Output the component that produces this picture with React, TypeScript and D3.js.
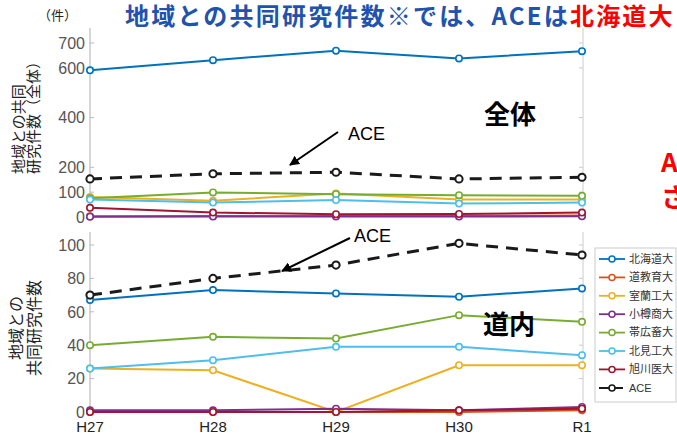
import * as d3 from "d3";

const years = ["H27", "H28", "H29", "H30", "R1"];
const univNames = ["北海道大", "道教育大", "室蘭工大", "小樽商大", "帯広畜大", "北見工大", "旭川医大"];
const univColors = ["#0072BD", "#D95319", "#EDB120", "#7E2F8E", "#77AC30", "#4DBEEE", "#A2142F"];

// 全体 (all)
const totalHokudai = [590, 631, 669, 638, 667];
const totalKyoiku = [3, 4, 4, 4, 6];
const totalMuroran = [80, 65, 95, 70, 70];
const totalOtaru = [1, 2, 2, 2, 3];
const totalObihiro = [75, 99, 92, 88, 85];
const totalKitami = [70, 58, 68, 54, 58];
const totalAsahikawa = [37, 18, 11, 12, 18];
const totalACE = [153, 174, 180, 153, 160];
const totalTicks = [0, 100, 200, 400, 600, 700];

// 道内 (within Hokkaido)
const localHokudai = [67, 73, 71, 69, 74];
const localKyoiku = [0, 0, 0, 0, 1];
const localMuroran = [26, 25, 0, 28, 28];
const localOtaru = [1, 1, 2, 1, 3];
const localObihiro = [40, 45, 44, 58, 54];
const localKitami = [26, 31, 39, 39, 34];
const localAsahikawa = [0, 0, 0, 1, 2];
const localACE = [70, 80, 88, 101, 94];
const localTicks = [0, 20, 40, 60, 80, 100];

const totalSeries = [totalHokudai, totalKyoiku, totalMuroran, totalOtaru, totalObihiro, totalKitami, totalAsahikawa];
const localSeries = [localHokudai, localKyoiku, localMuroran, localOtaru, localObihiro, localKitami, localAsahikawa];

const jp = "'Noto Sans CJK JP', 'Noto Sans', sans-serif";
const num = "'Liberation Sans', Arial, sans-serif";

type PanelProps = {
  series: number[][];
  ace: number[];
  ticks: number[];
  domain: [number, number];
  yRange: [number, number];
  axisTop: number;
  axisBottom: number;
};

const x = d3.scalePoint<string>().domain(years).range([90, 582]);

function Panel({ series, ace, ticks, domain, yRange, axisTop, axisBottom }: PanelProps) {
  const y = d3.scaleLinear().domain(domain).range(yRange);
  const line = d3
    .line<number>()
    .x((_, i) => x(years[i]) ?? 0)
    .y((d) => y(d));
  return (
    <g>
      <line x1={90} x2={90} y1={axisTop} y2={axisBottom} stroke="#bbb" strokeWidth={1.2} />
      <line x1={583} x2={583} y1={axisTop} y2={axisBottom} stroke="#ccc" strokeWidth={1} />
      {ticks.map((t) => (
        <g key={t}>
          <line x1={90} x2={94} y1={y(t)} y2={y(t)} stroke="#bbb" />
          <line x1={579} x2={583} y1={y(t)} y2={y(t)} stroke="#ccc" />
          <text x={85} y={y(t)} dy="0.36em" textAnchor="end" fontSize={16} fill="#555" fontFamily={num}>
            {t}
          </text>
        </g>
      ))}
      {series.map((s, k) => (
        <g key={univNames[k]}>
          <path d={line(s) ?? ""} fill="none" stroke={univColors[k]} strokeWidth={2} />
          {s.map((v, i) => (
            <circle key={i} cx={x(years[i])} cy={y(v)} r={3.2} fill="#fff" stroke={univColors[k]} strokeWidth={1.6} />
          ))}
        </g>
      ))}
      <path d={line(ace) ?? ""} fill="none" stroke="#1a1a1a" strokeWidth={3} strokeDasharray="12 8" />
      {ace.map((v, i) => (
        <circle key={i} cx={x(years[i])} cy={y(v)} r={3.6} fill="#fff" stroke="#1a1a1a" strokeWidth={2} />
      ))}
    </g>
  );
}

export default function App() {
  const width = 677;
  const height = 433;
  return (
    <svg
      width={width}
      height={height}
      viewBox={`0 0 ${width} ${height}`}
      style={{ position: "absolute", left: 0, top: 0, background: "#fff" }}
    >
      <defs>
        <marker id="arrow" viewBox="0 0 10 10" refX={9} refY={5} markerWidth={5} markerHeight={5} orient="auto-start-reverse">
          <path d="M0,0 L10,5 L0,10 z" fill="#000" />
        </marker>
      </defs>
      <rect width={width} height={height} fill="#fff" />

      <text x={38} y={20} fontSize={13} fill="#222" fontFamily={jp}>
        （件）
      </text>
      <text x={125} y={25} fontSize={24} fontWeight="bold" letterSpacing={2.2} fill="#2152ad" fontFamily={jp}>
        地域との共同研究件数※では、ACEは<tspan fill="#ff0000">北海道大</tspan>
      </text>

      <Panel
        series={totalSeries}
        ace={totalACE}
        ticks={totalTicks}
        domain={[0, 700]}
        yRange={[217, 43]}
        axisTop={28}
        axisBottom={219}
      />
      <Panel
        series={localSeries}
        ace={localACE}
        ticks={localTicks}
        domain={[0, 100]}
        yRange={[412, 245]}
        axisTop={232}
        axisBottom={415}
      />

      {years.map((yr) => (
        <text key={yr} x={x(yr)} y={432} textAnchor="middle" fontSize={15} fill="#222" fontFamily={num}>
          {yr}
        </text>
      ))}

      <g fontFamily={jp} fontSize={15} fill="#222">
        <text transform="translate(24,174) rotate(-90)">地域との共同</text>
        <text transform="translate(39,174) rotate(-90)">研究件数（全体）</text>
        <text transform="translate(22,328) rotate(-90)" textAnchor="middle" fontSize={16}>地域との</text>
        <text transform="translate(40,328) rotate(-90)" textAnchor="middle" fontSize={16}>共同研究件数</text>
      </g>

      <text x={484} y={124} fontSize={26} fontWeight="bold" fill="#000" fontFamily={jp}>全体</text>
      <text x={483} y={334} fontSize={26} fontWeight="bold" fill="#000" fontFamily={jp}>道内</text>

      <text x={348} y={140} fontSize={18} fill="#000" fontFamily={num}>ACE</text>
      <line x1={338} y1={132} x2={290} y2={165} stroke="#000" strokeWidth={2} markerEnd="url(#arrow)" />
      <text x={354} y={242} fontSize={18} fill="#000" fontFamily={num}>ACE</text>
      <line x1={350} y1={238} x2={282} y2={271} stroke="#000" strokeWidth={2} markerEnd="url(#arrow)" />

      <text x={661} y={172} fontSize={26} fontWeight="bold" fill="#ff0000" fontFamily={jp}>ACE</text>
      <text x={661} y={207} fontSize={26} fontWeight="bold" fill="#ff0000" fontFamily={jp}>さ</text>

      <g>
        <rect x={595} y={248} width={81} height={154} fill="#fff" stroke="#ccc" />
        {univNames.map((n, k) => {
          const ly = 259 + k * 18.4;
          return (
            <g key={n}>
              <line x1={599} x2={625} y1={ly} y2={ly} stroke={univColors[k]} strokeWidth={1.8} />
              <circle cx={612} cy={ly} r={3} fill="#fff" stroke={univColors[k]} strokeWidth={1.5} />
              <text x={629} y={ly} dy="0.35em" fontSize={11} fill="#333" fontFamily={jp}>{n}</text>
            </g>
          );
        })}
        <line x1={599} x2={625} y1={388} y2={388} stroke="#1a1a1a" strokeWidth={2.2} strokeDasharray="10 4" />
        <circle cx={612} cy={388} r={3} fill="#fff" stroke="#1a1a1a" strokeWidth={1.6} />
        <text x={629} y={388} dy="0.35em" fontSize={11} fill="#333" fontFamily={num}>ACE</text>
      </g>
    </svg>
  );
}
